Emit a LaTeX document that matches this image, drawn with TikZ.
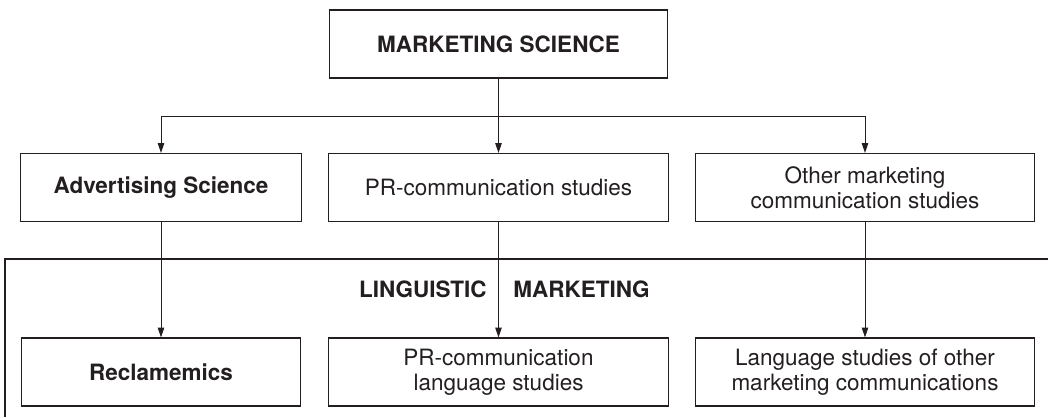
\documentclass[tikz,border=0pt]{standalone}
\usepackage{fontspec}
\setmainfont{TeX Gyre Heros}
\usepackage{xcolor}
\definecolor{ink}{RGB}{35, 31, 32}
\usepackage{tikz}
\usetikzlibrary{
    arrows.meta,
    positioning
}
\tikzstyle{box} = [
    draw=ink,
    line width=0.8pt,
    minimum height=1.7cm,
    align=center,
    text=ink,
    font=\fontsize{16}{18}\selectfont
]
\tikzstyle{arrow} = [
    ink,
    line width=0.7pt,
    -{Triangle[length=7pt, width=4.6pt]}
]

\begin{document}
\begin{tikzpicture}[x=0.025cm, y=0.025cm]

% Rahmen des Bildes
\useasboundingbox (0,0) rectangle (1048,417);

% Oberste Ebene
\node[box, minimum width=8.45cm] (ms) at (498.5,373) {\textbf{MARKETING SCIENCE}};

% Zweite Ebene
\node[box, minimum width=7.03cm] (adv) at (161,229.5) {\textbf{Advertising Science}};
\node[box, minimum width=8.48cm] (pr) at (498.5,229.5) {PR-communication studies};
\node[box, minimum width=8.48cm] (other) at (865,229.5) {Other marketing\\communication studies};

% Verzweigung
\coordinate (fork) at (498.5,301);
\draw[ink, line width=0.7pt] (ms.south) -- (fork);
\draw[arrow] (fork) -| (adv.north);
\draw[arrow] (fork) -- (pr.north);
\draw[arrow] (fork) -| (other.north);

% Bereich Linguistic Marketing
\draw[ink, line width=0.8pt] (1048,158) -- (5,158) -- (5,0);
\node[text=ink, inner sep=0pt, anchor=east, font=\fontsize{16}{18}\selectfont\bfseries] (ling) at (487,128) {LINGUISTIC};
\node[text=ink, inner sep=0pt, anchor=west, font=\fontsize{16}{18}\selectfont\bfseries] (mkt) at (513,128) {MARKETING};

% Unterste Ebene
\node[box, minimum width=6.98cm] (recl) at (161,45) {\textbf{Reclamemics}};
\node[box, minimum width=8.48cm] (prlang) at (498.5,45) {PR-communication\\language studies};
\node[box, minimum width=8.48cm] (lang) at (865,45) {Language studies of other\\marketing communications};

% Pfeile nach unten
\draw[arrow] (adv.south) -- (recl.north);
\draw[arrow] (pr.south) -- (prlang.north);
\draw[arrow] (other.south) -- (lang.north);

\end{tikzpicture}
\end{document}
